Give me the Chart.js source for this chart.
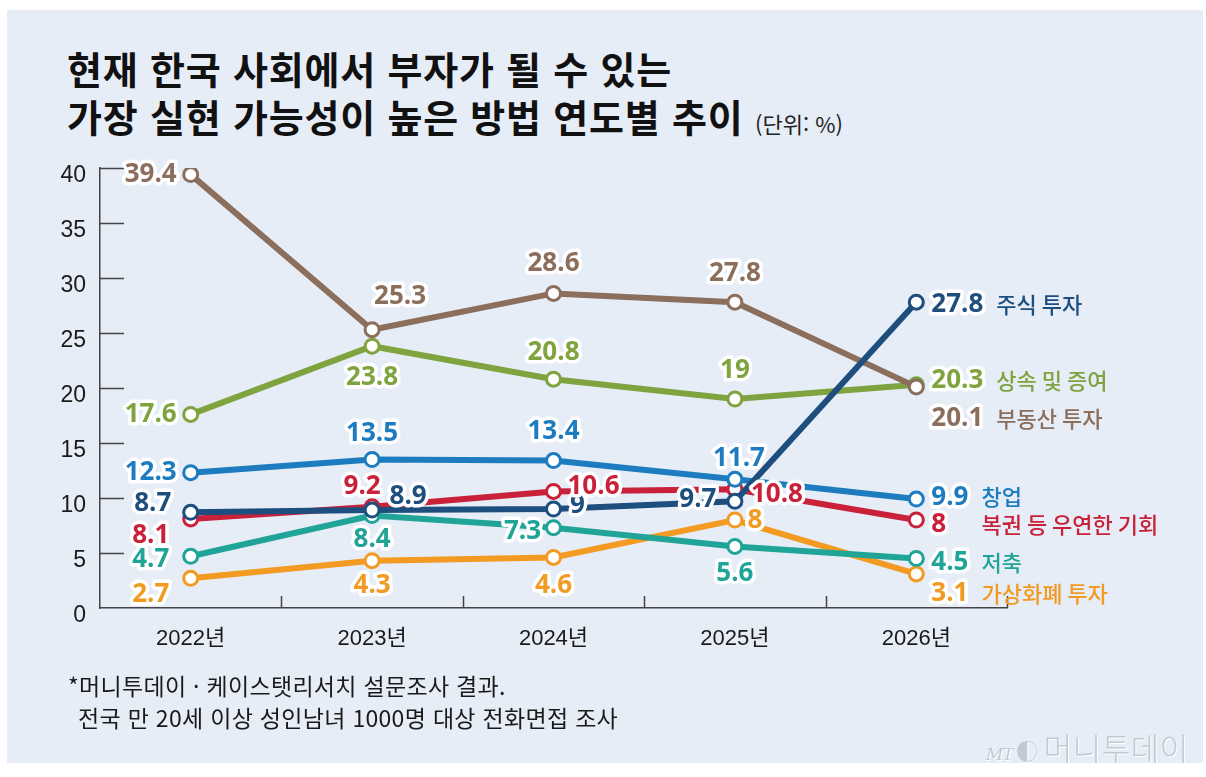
<!DOCTYPE html>
<html lang="ko">
<head>
<meta charset="utf-8">
<script src="https://cdn.jsdelivr.net/npm/chart.js@4.4.1/dist/chart.umd.min.js"></script>
<style>
    html, body { margin: 0; padding: 0; background: #ffffff; }
    #page { position: relative; width: 1206px; height: 777px; overflow: hidden; font-family: "Noto Sans CJK KR", sans-serif; }
    #panel { position: absolute; left: 7px; top: 10px; width: 1196px; height: 753px; background: #e6edf7; }
    .title { position: absolute; left: 67px; font-size: 38px; line-height: 38px; font-weight: 700; color: #111; letter-spacing: 0.8px; white-space: nowrap; }
    #unit { position: absolute; left: 755px; top: 110px; font-size: 22px; line-height: 26px; color: #222; white-space: nowrap; }
    .note { position: absolute; font-size: 23px; line-height: 26px; color: #1a1a1a; white-space: nowrap; letter-spacing: 0.3px; }
    #logo { position: absolute; left: 986px; top: 724px; color: #c3c9d3; white-space: nowrap; text-shadow: 1px 1px 0 #ffffff; }
    #logo .mt { font-family: "DejaVu Serif", serif; font-style: italic; font-size: 17px; letter-spacing: -1px; }
    #logo .ring { font-size: 23px; margin: 0 5px 0 3px; }
    #logo .name { font-size: 31px; font-weight: 300; letter-spacing: 0.5px; }
    #chart-wrap { position: absolute; left: 0; top: 0; width: 1206px; height: 777px; }
</style>
</head>
<body>
<div id="page">
    <div id="panel"></div>
    <div class="title" style="top:49px">현재 한국 사회에서 부자가 될 수 있는</div>
    <div class="title" style="top:97px">가장 실현 가능성이 높은 방법 연도별 추이</div>
    <div id="unit">(단위: %)</div>
    <div id="chart-wrap"><canvas id="trendChart"></canvas></div>
    <div class="note" style="left:68px; top:672px">*머니투데이 · 케이스탯리서치 설문조사 결과.</div>
    <div class="note" style="left:78px; top:704px">전국 만 20세 이상 성인남녀 1000명 대상 전화면접 조사</div>
    <div id="logo"><span class="mt">MT</span><span class="ring">◐</span><span class="name">머니투데이</span></div>
</div>
<script>
// survey years (x categories)
const years = ['2022년', '2023년', '2024년', '2025년', '2026년'];

// series values, % of respondents
const stocks = [8.7, 8.9, 9, 9.7, 27.8];        // 주식 투자
const realEstate = [39.4, 25.3, 28.6, 27.8, 20.1]; // 부동산 투자
const inheritance = [17.6, 23.8, 20.8, 19, 20.3];  // 상속 및 증여
const startup = [12.3, 13.5, 13.4, 11.7, 9.9];     // 창업
const lottery = [8.1, 9.2, 10.6, 10.8, 8];         // 복권 등 우연한 기회
const savings = [4.7, 8.4, 7.3, 5.6, 4.5];         // 저축
const crypto = [2.7, 4.3, 4.6, 8, 3.1];            // 가상화폐 투자

// y axis
const yMin = 0;
const yMax = 40;
const yStep = 5;

// label placement: offset of each point label from its marker (first four years),
// then vertical nudge of the end label at 2026
const series = [
    { name: '주식 투자', data: stocks, color: '#1d4e7d',
      shift: [[-38, -9], [36, -14], [24, -3], [-37, -2]], endDy: 2 },
    { name: '부동산 투자', data: realEstate, color: '#8b6e5c',
      shift: [[-40, 0], [28, -33], [0, -30], [0, -29]], endDy: 32 },
    { name: '상속 및 증여', data: inheritance, color: '#7ea33f',
      shift: [[-40, 0], [0, 31], [0, -27], [0, -28]], endDy: -4 },
    { name: '창업', data: startup, color: '#1c7cbf',
      shift: [[-40, 0], [0, -26], [0, -29], [4, -21]], endDy: -2 },
    { name: '복권 등 우연한 기회', data: lottery, color: '#c82139',
      shift: [[-40, 17], [-10, -20], [40, -5], [42, 5]], endDy: 5 },
    { name: '저축', data: savings, color: '#20a497',
      shift: [[-40, 3], [0, 24], [-31, 4], [0, 27]], endDy: 4 },
    { name: '가상화폐 투자', data: crypto, color: '#f29a22',
      shift: [[-40, 16], [0, 25], [0, 28], [20, 1]], endDy: 20 }
];

const numFont = 'bold 26px "Open Sans", sans-serif';
const nameFont = '500 22px "Noto Sans CJK KR", sans-serif';

function haloText(ctx, text, x, y, color, lw) {
    ctx.lineJoin = 'round';
    ctx.lineWidth = lw;
    ctx.strokeStyle = '#ffffff';
    ctx.strokeText(text, x, y);
    ctx.fillStyle = color;
    ctx.fillText(text, x, y);
}

// inward tick marks on both axes
const axisMarks = {
    id: 'axisMarks',
    beforeDatasetsDraw(chart) {
        const { ctx, chartArea, scales } = chart;
        ctx.save();
        ctx.strokeStyle = '#444';
        ctx.lineWidth = 1.5;
        ctx.beginPath();
        scales.y.ticks.forEach(t => {
            if (t.value === yMin) return;
            const y = Math.round(scales.y.getPixelForValue(t.value)) + 0.5;
            ctx.moveTo(chartArea.left, y);
            ctx.lineTo(chartArea.left + 24, y);
        });
        const n = years.length;
        for (let i = 1; i <= n; i++) {
            const x = Math.round(chartArea.left + (chartArea.right - chartArea.left) * i / n) + 0.5;
            ctx.moveTo(x, chartArea.bottom);
            ctx.lineTo(x, chartArea.bottom - 12);
        }
        ctx.stroke();
        ctx.restore();
    }
};

// value labels with a white halo, plus end labels with series names
const valueLabels = {
    id: 'valueLabels',
    afterDatasetsDraw(chart) {
        const ctx = chart.ctx;
        ctx.save();
        ctx.textBaseline = 'middle';
        ctx.font = numFont;
        const minNumW = ctx.measureText('9.9').width;
        chart.data.datasets.forEach((ds, di) => {
            const s = series[di];
            const meta = chart.getDatasetMeta(di);
            meta.data.forEach((pt, i) => {
                const txt = String(ds.data[i]);
                if (i < ds.data.length - 1) {
                    ctx.font = numFont;
                    ctx.textAlign = 'center';
                    haloText(ctx, txt, pt.x + s.shift[i][0], pt.y + s.shift[i][1], s.color, 7);
                } else {
                    const x0 = pt.x + 15;
                    const y0 = pt.y + s.endDy;
                    ctx.font = numFont;
                    ctx.textAlign = 'left';
                    const w = Math.max(ctx.measureText(txt).width, minNumW);
                    haloText(ctx, txt, x0, y0, s.color, 7);
                    ctx.font = nameFont;
                    ctx.fillStyle = s.color;
                    ctx.fillText(s.name, x0 + w + 13, y0);
                }
            });
        });
        ctx.restore();
    }
};

new Chart(document.getElementById('trendChart'), {
    type: 'line',
    data: {
        labels: years,
        datasets: series.map(s => ({
            label: s.name,
            data: s.data,
            borderColor: s.color,
            borderWidth: 6,
            pointRadius: 7,
            pointBorderWidth: 3,
            pointBackgroundColor: '#ffffff',
            pointBorderColor: s.color,
            tension: 0
        }))
    },
    options: {
        responsive: true,
        maintainAspectRatio: false,
        animation: false,
        events: [],
        layout: { padding: { top: 168, right: 199, bottom: 119, left: 0 } },
        plugins: { legend: { display: false }, tooltip: { enabled: false } },
        scales: {
            x: {
                offset: true,
                afterFit: (scale) => { scale.height = 50; },
                grid: { display: false, drawTicks: false },
                border: { display: true, color: '#444', width: 1.5 },
                ticks: { padding: 18, color: '#1a1a1a', font: { family: '"Liberation Sans", "Noto Sans CJK KR", sans-serif', size: 22 } }
            },
            y: {
                min: yMin,
                max: yMax,
                afterFit: (scale) => { scale.width = 100; },
                grid: { display: false, drawTicks: false },
                border: { display: true, color: '#444', width: 1.5 },
                ticks: { stepSize: yStep, padding: 14, labelOffset: 8, color: '#1a1a1a', font: { family: '"Liberation Sans", sans-serif', size: 23 } }
            }
        }
    },
    plugins: [axisMarks, valueLabels]
});
</script>
</body>
</html>
